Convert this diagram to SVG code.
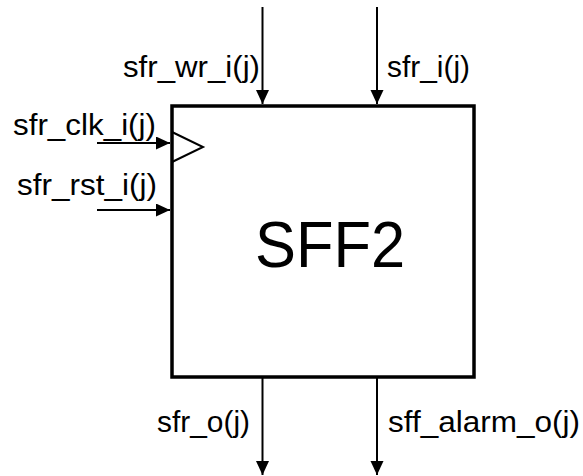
<svg xmlns="http://www.w3.org/2000/svg" width="583" height="476" viewBox="0 0 583 476">
<defs>
<style>
.lbl{font-family:"Liberation Sans",Arial,sans-serif;font-size:30px;fill:#000}
.big{font-family:"Liberation Sans",Arial,sans-serif;font-size:64px;fill:#000}
.wire{stroke:#000;stroke-width:2;fill:none}
</style>
<marker id="ah" markerUnits="userSpaceOnUse" markerWidth="15" markerHeight="14" refX="14" refY="6.5" orient="auto">
<path d="M0,0 L14,6.5 L0,13 Z" fill="#000"/>
</marker>
</defs>
<rect width="583" height="476" fill="#fff"/>
<g id="sff2">
<rect x="172" y="106" width="302" height="271" fill="#fff" stroke="#000" stroke-width="3.5"/>
<polyline points="172,132 203,147 172,162" fill="none" stroke="#000" stroke-width="2"/>
<text class="big" x="255" y="267" textLength="150" lengthAdjust="spacingAndGlyphs">SFF2</text>
</g>
<g id="connectors">
<line class="wire" x1="262.5" y1="7" x2="262.5" y2="104" marker-end="url(#ah)"/>
<line class="wire" x1="377" y1="7" x2="377" y2="104" marker-end="url(#ah)"/>
<line class="wire" x1="97" y1="143" x2="170" y2="143" marker-end="url(#ah)"/>
<line class="wire" x1="97" y1="210" x2="170" y2="210" marker-end="url(#ah)"/>
<line class="wire" x1="262.5" y1="378" x2="262.5" y2="475" marker-end="url(#ah)"/>
<line class="wire" x1="377" y1="378" x2="377" y2="475" marker-end="url(#ah)"/>
</g>
<g id="labels">
<text class="lbl" x="123" y="77" textLength="137" lengthAdjust="spacingAndGlyphs">sfr_wr_i(j)</text>
<text class="lbl" x="387" y="77" textLength="83" lengthAdjust="spacingAndGlyphs">sfr_i(j)</text>
<text class="lbl" x="13" y="135" textLength="143" lengthAdjust="spacingAndGlyphs">sfr_clk_i(j)</text>
<text class="lbl" x="17" y="195" textLength="140" lengthAdjust="spacingAndGlyphs">sfr_rst_i(j)</text>
<text class="lbl" x="157" y="432" textLength="93" lengthAdjust="spacingAndGlyphs">sfr_o(j)</text>
<text class="lbl" x="388" y="432" textLength="192" lengthAdjust="spacingAndGlyphs">sff_alarm_o(j)</text>
</g>
</svg>
